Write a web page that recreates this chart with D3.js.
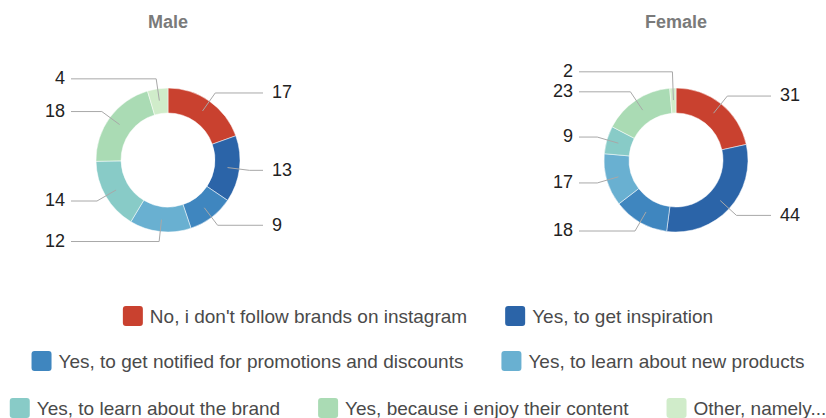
<!DOCTYPE html>
<html>
<head>
<meta charset="utf-8">
<script src="https://cdn.jsdelivr.net/npm/d3@7"></script>
<style>
  body { margin: 0; background: #fff; overflow: hidden; }
  svg text { font-family: "Liberation Sans", Arial, sans-serif; }
</style>
</head>
<body>
<div id="chart"></div>
<script>
var categories = [
  "No, i don't follow brands on instagram",
  "Yes, to get inspiration",
  "Yes, to get notified for promotions and discounts",
  "Yes, to learn about new products",
  "Yes, to learn about the brand",
  "Yes, because i enjoy their content",
  "Other, namely..."
]
var colors = ["#c9412f", "#2b64a8", "#3f86bf", "#69b0d1", "#88cbc7", "#aadbb4", "#d0ecca"]
var groups = ["Male", "Female"]
var maleValues = [17, 13, 9, 12, 14, 18, 4]
var femaleValues = [31, 44, 18, 17, 9, 23, 2]
var legendRows = [[0, 1], [2, 3], [4, 5, 6]]

var w = 826, h = 418
var svg = d3.select('#chart').append('svg')
    .attr('width', w)
    .attr('height', h)

var outerR = 72, innerR = 47
var centers = [168, 676]
var cy = 160

var pie = d3.pie().sort(null)
var arc = d3.arc().innerRadius(innerR).outerRadius(outerR)

function drawDonut (values, cx, title) {
  var g = svg.append('g').attr('transform', 'translate(' + cx + ',' + cy + ')')

  svg.append('text')
      .attr('x', cx).attr('y', 28)
      .attr('text-anchor', 'middle')
      .style('font-size', '18px').style('font-weight', 'bold')
      .style('fill', '#7a7a7a')
      .text(title)

  var arcs = pie(values)
  g.selectAll('path').data(arcs).enter().append('path')
      .attr('d', arc)
      .attr('fill', function (d, i) { return colors[i] })
      .attr('stroke', '#fff').attr('stroke-width', 0.5)

  // label positions: elbow at r 82, then horizontal out
  var labels = arcs.map(function (d) {
    var a = (d.startAngle + d.endAngle) / 2
    return {
      a: a,
      v: d.value,
      right: Math.sin(a) >= 0,
      sx: 60 * Math.sin(a), sy: -60 * Math.cos(a),
      ex: 82 * Math.sin(a), ey: -82 * Math.cos(a)
    }
  })
  labels.forEach(function (l) { l.y = l.ey })

  // push apart overlapping labels on each side
  ;[true, false].forEach(function (side) {
    var s = labels.filter(function (l) { return l.right === side })
    s.sort(function (a, b) { return a.y - b.y })
    for (var k = 1; k < s.length; k++) {
      if (s[k].y - s[k - 1].y < 20) s[k - 1].y = s[k].y - 20
    }
  })

  labels.forEach(function (l) {
    var endX = l.right ? 95 : -97
    g.append('polyline')
        .attr('points', [[l.sx, l.sy], [l.ex, l.y], [endX, l.y]].map(function (p) { return p.join(',') }).join(' '))
        .attr('fill', 'none')
        .attr('stroke', '#a8a8a8').attr('stroke-width', 1)
    g.append('text')
        .attr('x', l.right ? endX + 9 : endX - 6)
        .attr('y', l.y - 1)
        .attr('dy', '0.35em')
        .attr('text-anchor', l.right ? 'start' : 'end')
        .style('font-size', '18px')
        .style('fill', '#222')
        .text(l.v)
  })
}

drawDonut(maleValues, centers[0], groups[0])
drawDonut(femaleValues, centers[1], groups[1])

// legend
var rowY = [316, 361, 408]
var sw = 20, gapText = 7, gapItem = 38
legendRows.forEach(function (row, r) {
  var lg = svg.append('g')
  var x = 0
  row.forEach(function (i) {
    var item = lg.append('g').attr('transform', 'translate(' + x + ',0)')
    item.append('rect')
        .attr('x', 0).attr('y', rowY[r] - 10)
        .attr('width', sw).attr('height', 20)
        .attr('rx', 3)
        .attr('fill', colors[i])
    var t = item.append('text')
        .attr('x', sw + gapText).attr('y', rowY[r])
        .attr('dy', '0.35em')
        .style('font-size', '19px')
        .style('fill', '#4a4a4a')
        .text(categories[i])
    x += sw + gapText + t.node().getComputedTextLength() + gapItem
  })
  var total = x - gapItem
  lg.attr('transform', 'translate(' + (418 - total / 2) + ',0)')
})
</script>
</body>
</html>
